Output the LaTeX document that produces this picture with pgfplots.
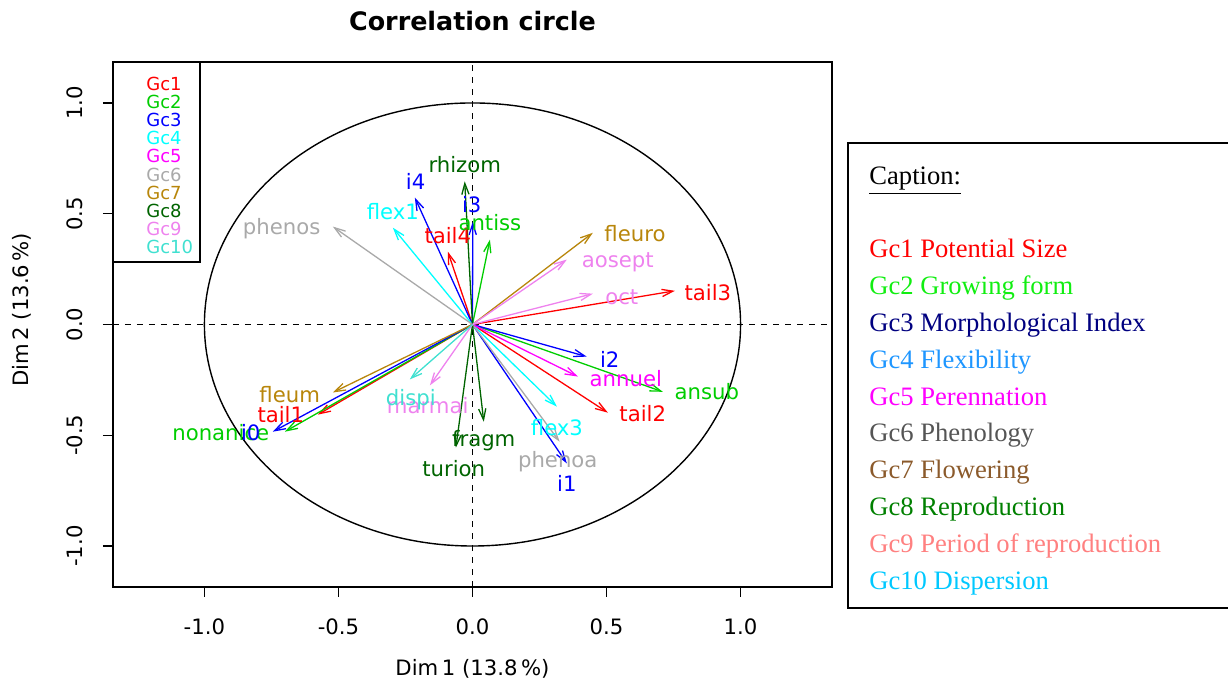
\documentclass[border=0pt]{standalone}
\usepackage{pgfplots}
\pgfplotsset{compat=1.18}
\usepackage{pgfplotstable}
\usepackage{fontspec}
\setmainfont{DejaVu Sans}
\newfontfamily\capfont{Liberation Serif}
\usetikzlibrary{arrows.meta}

% plot colours
\definecolor{gcA}{HTML}{FF0000}
\definecolor{gcB}{HTML}{00CD00}
\definecolor{gcC}{HTML}{0000FF}
\definecolor{gcD}{HTML}{00FFFF}
\definecolor{gcE}{HTML}{FF00FF}
\definecolor{gcF}{HTML}{A9A9A9}
\definecolor{gcG}{HTML}{B8860B}
\definecolor{gcH}{HTML}{006400}
\definecolor{gcI}{HTML}{EE82EE}
\definecolor{gcJ}{HTML}{40E0D0}
% caption colours
\definecolor{cpA}{HTML}{FF0000}
\definecolor{cpB}{HTML}{11EE11}
\definecolor{cpC}{HTML}{000080}
\definecolor{cpD}{HTML}{1E96FF}
\definecolor{cpE}{HTML}{FF00FF}
\definecolor{cpF}{HTML}{555555}
\definecolor{cpG}{HTML}{8B5A2B}
\definecolor{cpH}{HTML}{008000}
\definecolor{cpI}{HTML}{FF8080}
\definecolor{cpJ}{HTML}{00C8FF}

\newcommand{\lab}{\fontsize{10.6}{12}\selectfont}

\pgfplotstableread{
name x y lx ly
tail1 -0.577 -0.407 -0.715 -0.408
tail2 0.505 -0.398 0.635 -0.403
tail3 0.755 0.152 0.878 0.144
tail4 -0.092 0.329 -0.092 0.401
}\gcAtab
\pgfplotstableread{
name x y lx ly
nonanice -0.700 -0.484 -0.939 -0.488
antiss 0.065 0.383 0.065 0.460
ansub 0.710 -0.304 0.874 -0.304
}\gcBtab
\pgfplotstableread{
name x y lx ly
i0 -0.745 -0.484 -0.827 -0.488
i1 0.352 -0.627 0.352 -0.717
i2 0.426 -0.145 0.512 -0.159
i3 0.001 0.464 -0.003 0.541
i4 -0.215 0.573 -0.212 0.645
}\gcCtab
\pgfplotstableread{
name x y lx ly
flex1 -0.297 0.437 -0.297 0.509
flex3 0.315 -0.371 0.315 -0.466
}\gcDtab
\pgfplotstableread{
name x y lx ly
annuel 0.393 -0.235 0.572 -0.244
}\gcEtab
\pgfplotstableread{
name x y lx ly
phenos -0.521 0.442 -0.712 0.432
phenoa 0.325 -0.529 0.318 -0.619
}\gcFtab
\pgfplotstableread{
name x y lx ly
fleuro 0.449 0.414 0.606 0.410
fleum -0.521 -0.307 -0.682 -0.316
}\gcGtab
\pgfplotstableread{
name x y lx ly
rhizom -0.029 0.646 -0.029 0.722
fragm 0.042 -0.439 0.042 -0.525
turion -0.062 -0.556 -0.070 -0.651
}\gcHtab
\pgfplotstableread{
name x y lx ly
aosept 0.352 0.293 0.542 0.279
oct 0.449 0.139 0.557 0.125
marmai -0.159 -0.275 -0.167 -0.366
}\gcItab
\pgfplotstableread{
name x y lx ly
dispi -0.234 -0.248 -0.230 -0.339
}\gcJtab

\pgfplotsset{
  arr/.style={#1, line width=0.65pt, -{Straight Barb[length=5.5pt,width=3.6pt]},
    quiver={u=\thisrow{x}, v=\thisrow{y}}},
  lbl/.style={draw=none, mark=none, nodes near coords, point meta=explicit symbolic,
    every node near coord/.append style={anchor=center, inner sep=0pt, text=#1, font=\lab}},
}

\begin{document}
\begin{tikzpicture}[x=0.5pt,y=0.5pt]
\path[use as bounding box] (0,0) rectangle (1228,683);
\begin{axis}[
  at={(56.5pt,48pt)}, anchor=south west,
  width=359.5pt, height=262.5pt, scale only axis,
  xmin=-1.341, xmax=1.341, ymin=-1.185, ymax=1.185,
  xtick={-1,-0.5,0,0.5,1}, xticklabels={-1.0,-0.5,0.0,0.5,1.0},
  ytick={-1,-0.5,0,0.5,1}, yticklabels={-1.0,-0.5,0.0,0.5,1.0},
  xtick pos=bottom, ytick pos=left, tick align=outside, major tick length=5pt,
  tick style={black, line width=0.6pt},
  axis line style={line width=0.6pt},
  /pgf/number format/assume math mode=true,
  ticklabel style={font=\lab},
  xticklabel shift=7.5pt,
  yticklabel shift=6.5pt,
  yticklabel style={rotate=90, anchor=south},
  title={Correlation circle},
  title style={at={(0.5,1.055)}, anchor=center, font=\bfseries\fontsize{12.7}{15}\selectfont},
  xlabel={Dim\,1 (13.8\,\%)},
  ylabel={Dim\,2 (13.6\,\%)},
  label style={font=\lab},
  xlabel style={at={(0.5,-0.156)}, anchor=center},
  ylabel style={at={(-0.1266,0.528)}, anchor=center},
  clip=false,
]
\draw[line width=0.7pt] (axis cs:0,0) ellipse [x radius=1, y radius=1];
\draw[line width=0.6pt, dash pattern=on 3pt off 3pt] (axis cs:-1.341,0) -- (axis cs:1.341,0);
\draw[line width=0.6pt, dash pattern=on 3pt off 3pt] (axis cs:0,-1.185) -- (axis cs:0,1.185);

\addplot[arr=gcA] table[x expr=0, y expr=0] {\gcAtab};
\addplot[arr=gcB] table[x expr=0, y expr=0] {\gcBtab};
\addplot[arr=gcC] table[x expr=0, y expr=0] {\gcCtab};
\addplot[arr=gcD] table[x expr=0, y expr=0] {\gcDtab};
\addplot[arr=gcE] table[x expr=0, y expr=0] {\gcEtab};
\addplot[arr=gcF] table[x expr=0, y expr=0] {\gcFtab};
\addplot[arr=gcG] table[x expr=0, y expr=0] {\gcGtab};
\addplot[arr=gcH] table[x expr=0, y expr=0] {\gcHtab};
\addplot[arr=gcI] table[x expr=0, y expr=0] {\gcItab};
\addplot[arr=gcJ] table[x expr=0, y expr=0] {\gcJtab};

\addplot[lbl=gcA] table[x=lx, y=ly, meta=name] {\gcAtab};
\addplot[lbl=gcB] table[x=lx, y=ly, meta=name] {\gcBtab};
\addplot[lbl=gcC] table[x=lx, y=ly, meta=name] {\gcCtab};
\addplot[lbl=gcD] table[x=lx, y=ly, meta=name] {\gcDtab};
\addplot[lbl=gcE] table[x=lx, y=ly, meta=name] {\gcEtab};
\addplot[lbl=gcF] table[x=lx, y=ly, meta=name] {\gcFtab};
\addplot[lbl=gcG] table[x=lx, y=ly, meta=name] {\gcGtab};
\addplot[lbl=gcH] table[x=lx, y=ly, meta=name] {\gcHtab};
\addplot[lbl=gcI] table[x=lx, y=ly, meta=name] {\gcItab};
\addplot[lbl=gcJ] table[x=lx, y=ly, meta=name] {\gcJtab};
\end{axis}

% legend box (top left)
\draw[line width=0.6pt] (113,621) rectangle (200,421);
\foreach \t/\c [count=\i from 0] in {Gc1/gcA,Gc2/gcB,Gc3/gcC,Gc4/gcD,Gc5/gcE,Gc6/gcF,Gc7/gcG,Gc8/gcH,Gc9/gcI,Gc10/gcJ}
  \node[anchor=west, inner sep=0pt, text=\c, font=\fontsize{9}{10}\selectfont] at (146,{683-84-18.1*\i}) {\t};

% caption box (right)
\draw[line width=1.2pt] (848,540) rectangle (1232,75);
\node[anchor=base west, inner sep=0pt, font=\capfont\fontsize{13.3}{15}\selectfont] at (869,498) {\underline{Caption:}};
\foreach \t/\c [count=\i from 0] in {Gc1 Potential Size/cpA,Gc2 Growing form/cpB,Gc3 Morphological Index/cpC,Gc4 Flexibility/cpD,Gc5 Perennation/cpE,Gc6 Phenology/cpF,Gc7 Flowering/cpG,Gc8 Reproduction/cpH,Gc9 Period of reproduction/cpI,Gc10 Dispersion/cpJ}
  \node[anchor=base west, inner sep=0pt, text=\c, font=\capfont\fontsize{13.3}{15}\selectfont] at (869,{425-36.8*\i}) {\t};
\end{tikzpicture}
\end{document}
